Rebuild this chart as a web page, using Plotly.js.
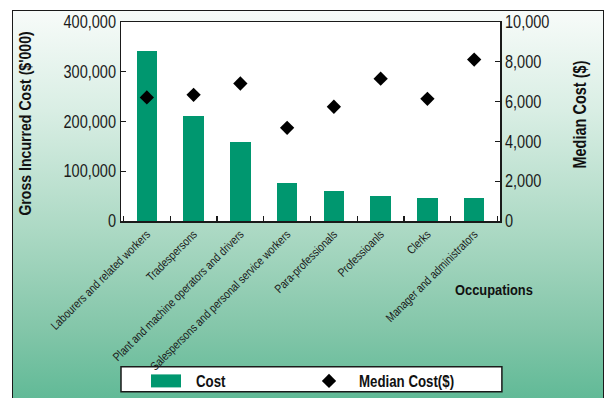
<!DOCTYPE html>
<html>
<head>
<meta charset="utf-8">
<script src="https://cdn.plot.ly/plotly-3.0.1.min.js"></script>
<style>
  html, body { margin: 0; padding: 0; width: 605px; height: 398px; overflow: hidden; background: #ffffff; }
  #frame {
    position: absolute; left: 12px; top: 10px; width: 592px; height: 400px;
    box-sizing: border-box; border: 1.5px solid #1a1a1a;
    background: linear-gradient(to bottom, #f7fbf9 0%, #d9eee4 25%, #acd9c4 55%, #83c6a9 80%, #5cb894 100%);
  }
  #chart { position: absolute; left: 0; top: 0; width: 605px; height: 398px; }
</style>
</head>
<body>
<div id="frame"></div>
<div id="chart"></div>
<script>
// Occupation categories along the x axis
const occupations = [
  "Labourers and related workers",
  "Tradespersons",
  "Plant and machine operators and drivers",
  "Salespersons and personal service workers",
  "Para-professionals",
  "Professioanls",
  "Clerks",
  "Manager and administrators"
];

// Gross incurred cost ($'000), left axis
const grossCost = [341000, 210700, 158000, 75900, 59800, 49700, 45600, 45600];

// Median cost ($), right axis
const medianCost = [6210, 6340, 6910, 4680, 5740, 7150, 6140, 8110];

// Tick values for both axes
const leftTicks = [0, 100000, 200000, 300000, 400000];
const rightTicks = [0, 2000, 4000, 6000, 8000, 10000];

const FONT = '"Liberation Sans", Arial, sans-serif';
const SQUEEZE = 0.83;          // horizontal condensing applied to every label
const GREEN = "#00976f";

const traces = [
  {
    type: "bar",
    name: "Cost",
    x: occupations,
    y: grossCost,
    width: 0.44,
    marker: { color: GREEN, line: { width: 0 } },
    yaxis: "y"
  },
  {
    type: "scatter",
    mode: "markers",
    name: "Median Cost($)",
    x: occupations,
    y: medianCost,
    marker: { symbol: "diamond", size: 11, color: "#000000" },
    yaxis: "y2"
  }
];

const axisCommon = {
  showline: true,
  linecolor: "#1a1a1a",
  linewidth: 1.5,
  ticks: "inside",
  ticklen: 5,
  tickwidth: 1.2,
  tickcolor: "#1a1a1a",
  showgrid: false,
  zeroline: false,
  fixedrange: true
};

const boldFont = (size) => ({ family: FONT, size: size, color: "#111111", weight: "bold" });

const layout = {
  width: 605,
  height: 398,
  margin: { l: 121, r: 105, t: 22, b: 177, pad: 0 },
  paper_bgcolor: "rgba(0,0,0,0)",
  plot_bgcolor: "#ffffff",
  font: { family: FONT, color: "#1a1a1a" },
  bargap: 0,
  xaxis: Object.assign({}, axisCommon, {
    type: "category",
    tickson: "boundaries",
    mirror: true,
    tickangle: -45,
    tickfont: { family: FONT, size: 12, color: "#1a1a1a" }
  }),
  yaxis: Object.assign({}, axisCommon, {
    range: [0, 400000],
    tickvals: leftTicks,
    tickformat: ",d",
    tickfont: { family: FONT, size: 17.5, color: "#1a1a1a" }
  }),
  yaxis2: Object.assign({}, axisCommon, {
    overlaying: "y",
    side: "right",
    range: [0, 10000],
    tickvals: rightTicks,
    tickformat: ",d",
    tickfont: { family: FONT, size: 17.5, color: "#1a1a1a" }
  }),
  showlegend: true,
  legend: {
    orientation: "h",
    xref: "container",
    yref: "container",
    x: 0.2248,
    xanchor: "left",
    y: 0.0427,
    yanchor: "middle",
    bgcolor: "rgba(0,0,0,0)",
    borderwidth: 0,
    entrywidth: 98,
    itemwidth: 50,
    font: boldFont(16)
  },
  shapes: [
    {
      type: "rect",
      xref: "paper", yref: "paper",
      x0: 0.0, x1: 1.005, y0: -0.858, y1: -0.733,
      fillcolor: "#ffffff",
      line: { color: "#1a1a1a", width: 1.5 },
      layer: "below"
    }
  ],
  annotations: [
    {
      text: "Gross Incurred Cost ($'000)",
      xref: "paper", yref: "paper",
      x: -0.251, y: 0.489, xanchor: "center", yanchor: "middle",
      textangle: -90, showarrow: false,
      font: boldFont(17)
    },
    {
      text: "Median Cost ($)",
      xref: "paper", yref: "paper",
      x: 1.211, y: 0.534, xanchor: "center", yanchor: "middle",
      textangle: -90, showarrow: false,
      font: boldFont(17.5)
    },
    {
      text: "Occupations",
      xref: "paper", yref: "paper",
      x: 0.983, y: -0.342, xanchor: "center", yanchor: "middle",
      showarrow: false,
      font: boldFont(15.5)
    }
  ]
};

// Condense each label along its own baseline, keeping its anchor point fixed
function condenseText(gd) {
  gd.querySelectorAll("svg text").forEach((t) => {
    const x = parseFloat(t.getAttribute("x")) || 0;
    const y = parseFloat(t.getAttribute("y")) || 0;
    const base = t.getAttribute("transform") || "";
    t.setAttribute("transform",
      `${base} translate(${x},${y}) scale(${SQUEEZE},1) translate(${-x},${-y})`);
  });
  // widen the bar swatch in the legend to a flat rectangle
  gd.querySelectorAll(".legend .legendpoints path.legendundefined, .legend .legendbar path").forEach((p) => {
    p.setAttribute("d", "M15,6.5H-15V-6.5H15Z");
  });
}

Plotly.newPlot("chart", traces, layout, { displayModeBar: false, staticPlot: true })
  .then(condenseText);
</script>
</body>
</html>
